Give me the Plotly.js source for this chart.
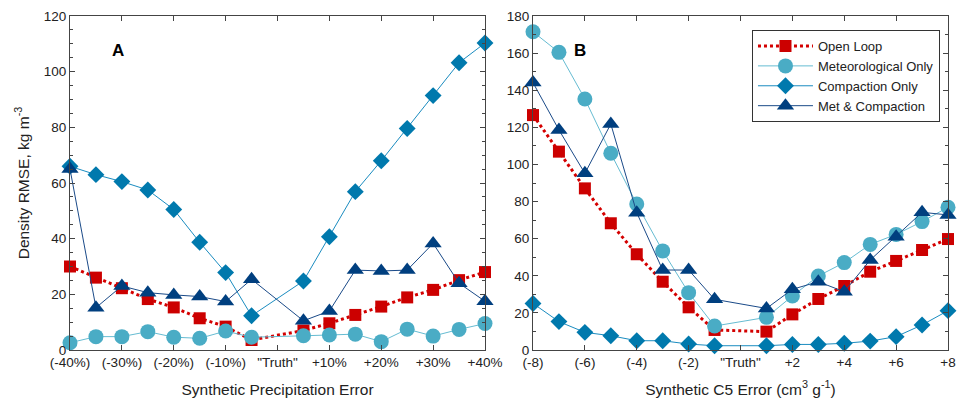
<!DOCTYPE html>
<html>
<head>
<meta charset="utf-8">
<script src="https://cdn.plot.ly/plotly-3.0.1.min.js"></script>
<style>html,body{margin:0;padding:0;background:#fff;}#chart{width:961px;height:404px;}</style>
</head>
<body>
<div id="chart"></div>
<script>
// Panel A: synthetic precipitation error (%)
const precipErr = [-40,-35,-30,-25,-20,-15,-10,-5,5,10,15,20,25,30,35,40];
const precipTickVals = [-40,-30,-20,-10,0,10,20,30,40];
const precipTickText = ['(-40%)','(-30%)','(-20%)','(-10%)','"Truth"','+10%','+20%','+30%','+40%'];
const A_openLoop = [30,26,22.2,18.3,15.3,11.4,8.4,3.6,7,9.6,12.6,15.6,18.9,21.6,25.1,28];
const A_met      = [2.6,4.8,4.8,6.6,4.6,4.2,6.8,4.6,5.1,5.4,5.7,3.0,7.5,5.0,7.4,9.5];
const A_comp     = [66,63,60.5,57.5,50.5,38.7,27.8,12.3,24.8,40.7,56.9,68,79.6,91.4,103.2,110.3];
const A_metComp  = [65,15.2,23,20.6,19.8,19.2,17.4,25.4,10.5,14,28.7,28.4,28.7,38.3,24,17.5];

// Panel B: synthetic C5 error (cm3 g-1)
const c5Err = [-8,-7,-6,-5,-4,-3,-2,-1,1,2,3,4,5,6,7,8];
const c5TickVals = [-8,-6,-4,-2,0,2,4,6,8];
const c5TickText = ['(-8)','(-6)','(-4)','(-2)','"Truth"','+2','+4','+6','+8'];
const B_openLoop = [126.6,106.9,87.1,68.3,51.6,36.8,23.0,10.8,9.9,19.2,27.5,34.5,42.2,48.0,53.9,59.8];
const B_met      = [171.5,160.4,135.3,106,78.7,53.4,30.9,12.9,17.6,29.1,39.9,47.1,56.9,62.3,69.2,76.9];
const B_comp     = [25.1,15.3,9.5,7.7,5.0,5.0,3.2,2.3,2.3,3.0,3.0,3.6,4.8,7.2,13.5,21.2];
const B_metComp  = [144.1,118.6,95.2,121.8,74,43.1,43.1,27.3,22.4,32.7,36.8,31.4,48.5,61.1,74.2,72.8];

const seriesNames = ['Open Loop','Meteorological Only','Compaction Only','Met & Compaction'];

const styles = [
  {line:{color:'#d40000', width:3, dash:'dot'}, marker:{symbol:'square', size:12, color:'#cc0000'}},
  {line:{color:'#66bcd2', width:1}, marker:{symbol:'circle', size:15, color:'#4aacc5'}},
  {line:{color:'#1a8cc0', width:1}, marker:{symbol:'diamond', size:13, color:'#0079ad'}},
  {line:{color:'#1a4a88', width:1}, marker:{symbol:'triangle-up', size:15, color:'#003f7f'}}
];

const Avals = [A_openLoop, A_met, A_comp, A_metComp];
const Bvals = [B_openLoop, B_met, B_comp, B_metComp];

const traces = [];
Avals.forEach((v,i)=>{
  traces.push({x:precipErr, y:v, xaxis:'x', yaxis:'y', type:'scatter', mode:'lines+markers',
    name:seriesNames[i], showlegend:false, cliponaxis:false,
    line:styles[i].line, marker:styles[i].marker});
});
Bvals.forEach((v,i)=>{
  traces.push({x:c5Err, y:v, xaxis:'x2', yaxis:'y2', type:'scatter', mode:'lines+markers',
    name:seriesNames[i], showlegend:true, cliponaxis:false,
    line:styles[i].line, marker:styles[i].marker});
});

const font = {family:'Liberation Sans, Arial, sans-serif', color:'#222'};
const axisCommon = {showline:true, linecolor:'#444', linewidth:1, mirror:'allticks',
  ticks:'inside', ticklen:5, tickcolor:'#444', showgrid:false, zeroline:false,
  tickfont:{size:13.5, color:'#222'}};

const layout = {
  width:961, height:404,
  margin:{l:0, r:0, t:16, b:54},
  paper_bgcolor:'#fff', plot_bgcolor:'#fff',
  font:font,
  showlegend:true,
  legend:{x:0.7825, y:0.958, xanchor:'left', yanchor:'top', bgcolor:'#fff',
    bordercolor:'#333', borderwidth:1, font:{size:13, color:'#222'}, tracegroupgap:0,
    itemwidth:55},
  xaxis:Object.assign({}, axisCommon, {domain:[70/961, 485/961], range:[-40,40],
    tickmode:'array', tickvals:precipTickVals, ticktext:precipTickText, anchor:'y',
    title:{text:'Synthetic Precipitation Error', font:{size:15.5, color:'#222'}, standoff:14}}),
  yaxis:Object.assign({}, axisCommon, {domain:[0,1], range:[0,120], dtick:20, anchor:'x',
    minor:{dtick:5, ticklen:3, tickcolor:'#444', ticks:'inside'},
    title:{text:'Density RMSE, kg m<sup>-3</sup>', font:{size:15.5, color:'#222'}, standoff:10}}),
  xaxis2:Object.assign({}, axisCommon, {domain:[533/961, 948/961], range:[-8,8],
    tickmode:'array', tickvals:c5TickVals, ticktext:c5TickText, anchor:'y2',
    title:{text:'Synthetic C5 Error (cm<sup>3</sup> g<sup>-1</sup>)', font:{size:15.5, color:'#222'}, standoff:14}}),
  yaxis2:Object.assign({}, axisCommon, {domain:[0,1], range:[0,180], dtick:20, anchor:'x2',
    minor:{dtick:10, ticklen:3, tickcolor:'#444', ticks:'inside'}}),
  annotations:[
    {text:'<b>A</b>', x:118/961, y:(350-50.7)/334, xref:'paper', yref:'paper', showarrow:false,
      font:{size:17, color:'#000'}, xanchor:'center', yanchor:'middle'},
    {text:'<b>B</b>', x:580/961, y:(350-50)/334, xref:'paper', yref:'paper', showarrow:false,
      font:{size:17, color:'#000'}, xanchor:'center', yanchor:'middle'}
  ]
};

Plotly.newPlot('chart', traces, layout, {displayModeBar:false, staticPlot:true});
</script>
</body>
</html>
